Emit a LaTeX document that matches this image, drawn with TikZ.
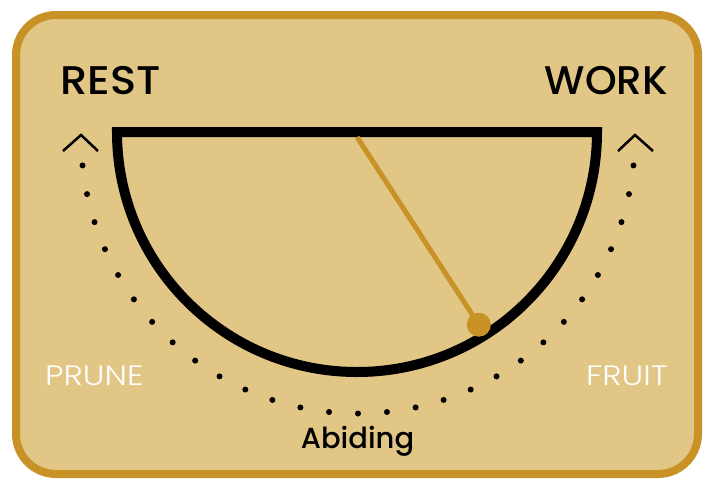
\documentclass[tikz,border=0pt]{standalone}
\usepackage{fontspec}
\setmainfont{Poppins}
\newfontfamily\thinfont{Poppins Light}
\newfontfamily\midfont{Poppins Medium}
\usetikzlibrary{calc}

\definecolor{sand}{RGB}{225,198,134}
\definecolor{ochre}{RGB}{201,146,38}

\begin{document}
\begin{tikzpicture}[
    x=1pt, y=-1pt,
    frame/.style={draw=ochre, fill=sand, line width=8pt, rounded corners=40pt},
    gauge/.style={draw=black, line width=10pt},
    needle/.style={draw=ochre, line width=5pt},
    chevron/.style={draw=black, line width=2.5pt},
    big word/.style={font=\midfont\fontsize{40}{40}\selectfont\addfontfeature{FakeStretch=#1}, inner sep=0pt},
    big word/.default=1,
    side word/.style={font=\thinfont\fontsize{28}{28}\selectfont\addfontfeature{FakeStretch=1.17}, text=white, inner sep=0pt},
    base word/.style={font=\midfont\fontsize{29}{29}\selectfont, inner sep=0pt}
  ]

  \def\R{240}       % gauge radius
  \def\Rd{277}      % dotted track radius
  \def\Ang{57.7}    % needle angle
  \def\Rn{228}      % needle length

  \useasboundingbox (0,0) rectangle (707,480);

  % card
  \draw[frame] (16,15) rectangle (698,474);

  \coordinate (C) at (357,132);
  \coordinate (D) at (358,136.5);

  % dotted track
  \foreach \a in {6,12,...,174} {
    \fill (D) ++(\a:\Rd) circle (3pt);
  }

  % chevrons
  \coordinate (chevL) at (81,135);
  \coordinate (chevR) at (635,135);
  \draw[chevron] (chevL) ++(-18,16) -- (chevL) -- ++(17,16);
  \draw[chevron] (chevR) ++(-17,16) -- (chevR) -- ++(18,16);

  % gauge
  \draw[gauge] (C) ++(180:\R) arc (180:0:\R) -- cycle;

  % needle
  \coordinate (pivot) at (357,137);
  \node[circle, fill=ochre, minimum size=24pt, inner sep=0pt] (tip)
    at ($(C)+(\Ang:\Rn)$) {};
  \draw[needle] (pivot) -- (tip.center);

  % words
  \node[big word=1.08, anchor=base west] (rest) at (60,94) {REST};
  \node[big word=1.01, anchor=base east] (work) at (668,94) {WORK};
  \node[side word, anchor=base west] (prune) at (45,385) {PRUNE};
  \node[side word, anchor=base east] (fruit) at (668,385) {FRUIT};
  \node[base word, anchor=base] (abiding) at (357.5,448) {Abiding};
\end{tikzpicture}
\end{document}
